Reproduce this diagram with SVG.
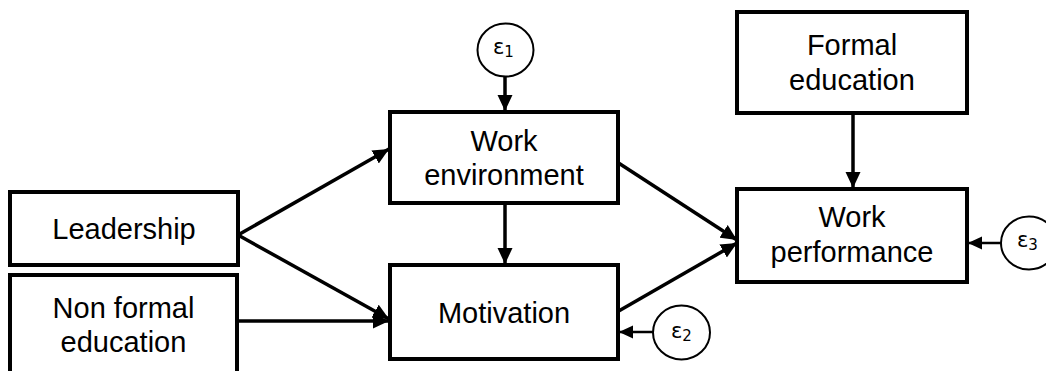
<svg xmlns="http://www.w3.org/2000/svg" width="1046" height="371" viewBox="0 0 1046 371">
<style>
.box{fill:#fff;stroke:#000;stroke-width:4}
.err{fill:#fff;stroke:#000;stroke-width:2}
.lbl{font-family:"Liberation Sans",Arial,sans-serif;font-size:29px;fill:#000;text-anchor:middle}
.eps{font-family:"DejaVu Sans",Verdana,sans-serif;font-size:21px;fill:#000}
.sub{font-size:15px}
.arr{stroke:#000;stroke-width:3.5;fill:none;marker-end:url(#ah)}
.arr2{stroke:#000;stroke-width:2.5;fill:none;marker-end:url(#ah2)}
</style>
<defs>
<marker id="ah" markerUnits="userSpaceOnUse" markerWidth="18" markerHeight="16" refX="16" refY="8" orient="auto">
<path d="M0,0.5 L16,8 L0,15.5 Z" fill="#000"/>
</marker>
<marker id="ah2" markerUnits="userSpaceOnUse" markerWidth="16" markerHeight="14" refX="14" refY="7" orient="auto">
<path d="M0,0.5 L14,7 L0,13.5 Z" fill="#000"/>
</marker>
</defs>
<rect width="1046" height="371" fill="#fff"/>
<g id="connectors">
<line class="arr" x1="505" y1="77" x2="505" y2="111"/>
<line class="arr" x1="505" y1="204" x2="505" y2="264"/>
<line class="arr" x1="238" y1="235" x2="389" y2="149"/>
<line class="arr" x1="238" y1="235" x2="389" y2="319"/>
<line class="arr" x1="237" y1="321" x2="389" y2="321"/>
<line class="arr" x1="617" y1="162" x2="737" y2="240"/>
<line class="arr" x1="617" y1="312" x2="737" y2="243"/>
<line class="arr" x1="853" y1="114" x2="853" y2="188"/>
<line class="arr2" x1="653" y1="332" x2="619" y2="332"/>
<line class="arr2" x1="1001" y1="243" x2="968" y2="243"/>
</g>
<g id="leadership">
<rect class="box" x="10" y="192" width="228" height="73"/>
<text class="lbl" x="124" y="239">Leadership</text>
</g>
<g id="nonformal">
<rect class="box" x="10" y="275" width="227" height="130"/>
<text class="lbl" x="123.5" y="318">Non formal</text>
<text class="lbl" x="123.5" y="352">education</text>
</g>
<g id="workenv">
<rect class="box" x="390" y="112" width="228" height="91"/>
<text class="lbl" x="504" y="151">Work</text>
<text class="lbl" x="504" y="185">environment</text>
</g>
<g id="motivation">
<rect class="box" x="390" y="265" width="228" height="94"/>
<text class="lbl" x="504" y="323">Motivation</text>
</g>
<g id="formaledu">
<rect class="box" x="737" y="12" width="230" height="101"/>
<text class="lbl" x="852" y="55">Formal</text>
<text class="lbl" x="852" y="90">education</text>
</g>
<g id="workperf">
<rect class="box" x="737" y="189" width="230" height="93"/>
<text class="lbl" x="852" y="227">Work</text>
<text class="lbl" x="852" y="262">performance</text>
</g>
<g id="e1">
<ellipse class="err" cx="505.5" cy="50" rx="28" ry="26.5"/>
<text class="eps" x="493" y="54">ε<tspan class="sub" dy="3">1</tspan></text>
</g>
<g id="e2">
<ellipse class="err" cx="681.5" cy="332.5" rx="28.5" ry="27"/>
<text class="eps" x="671" y="338">ε<tspan class="sub" dy="3">2</tspan></text>
</g>
<g id="e3">
<ellipse class="err" cx="1029" cy="243" rx="28" ry="26.5"/>
<text class="eps" x="1017" y="247">ε<tspan class="sub" dy="3">3</tspan></text>
</g>
</svg>
